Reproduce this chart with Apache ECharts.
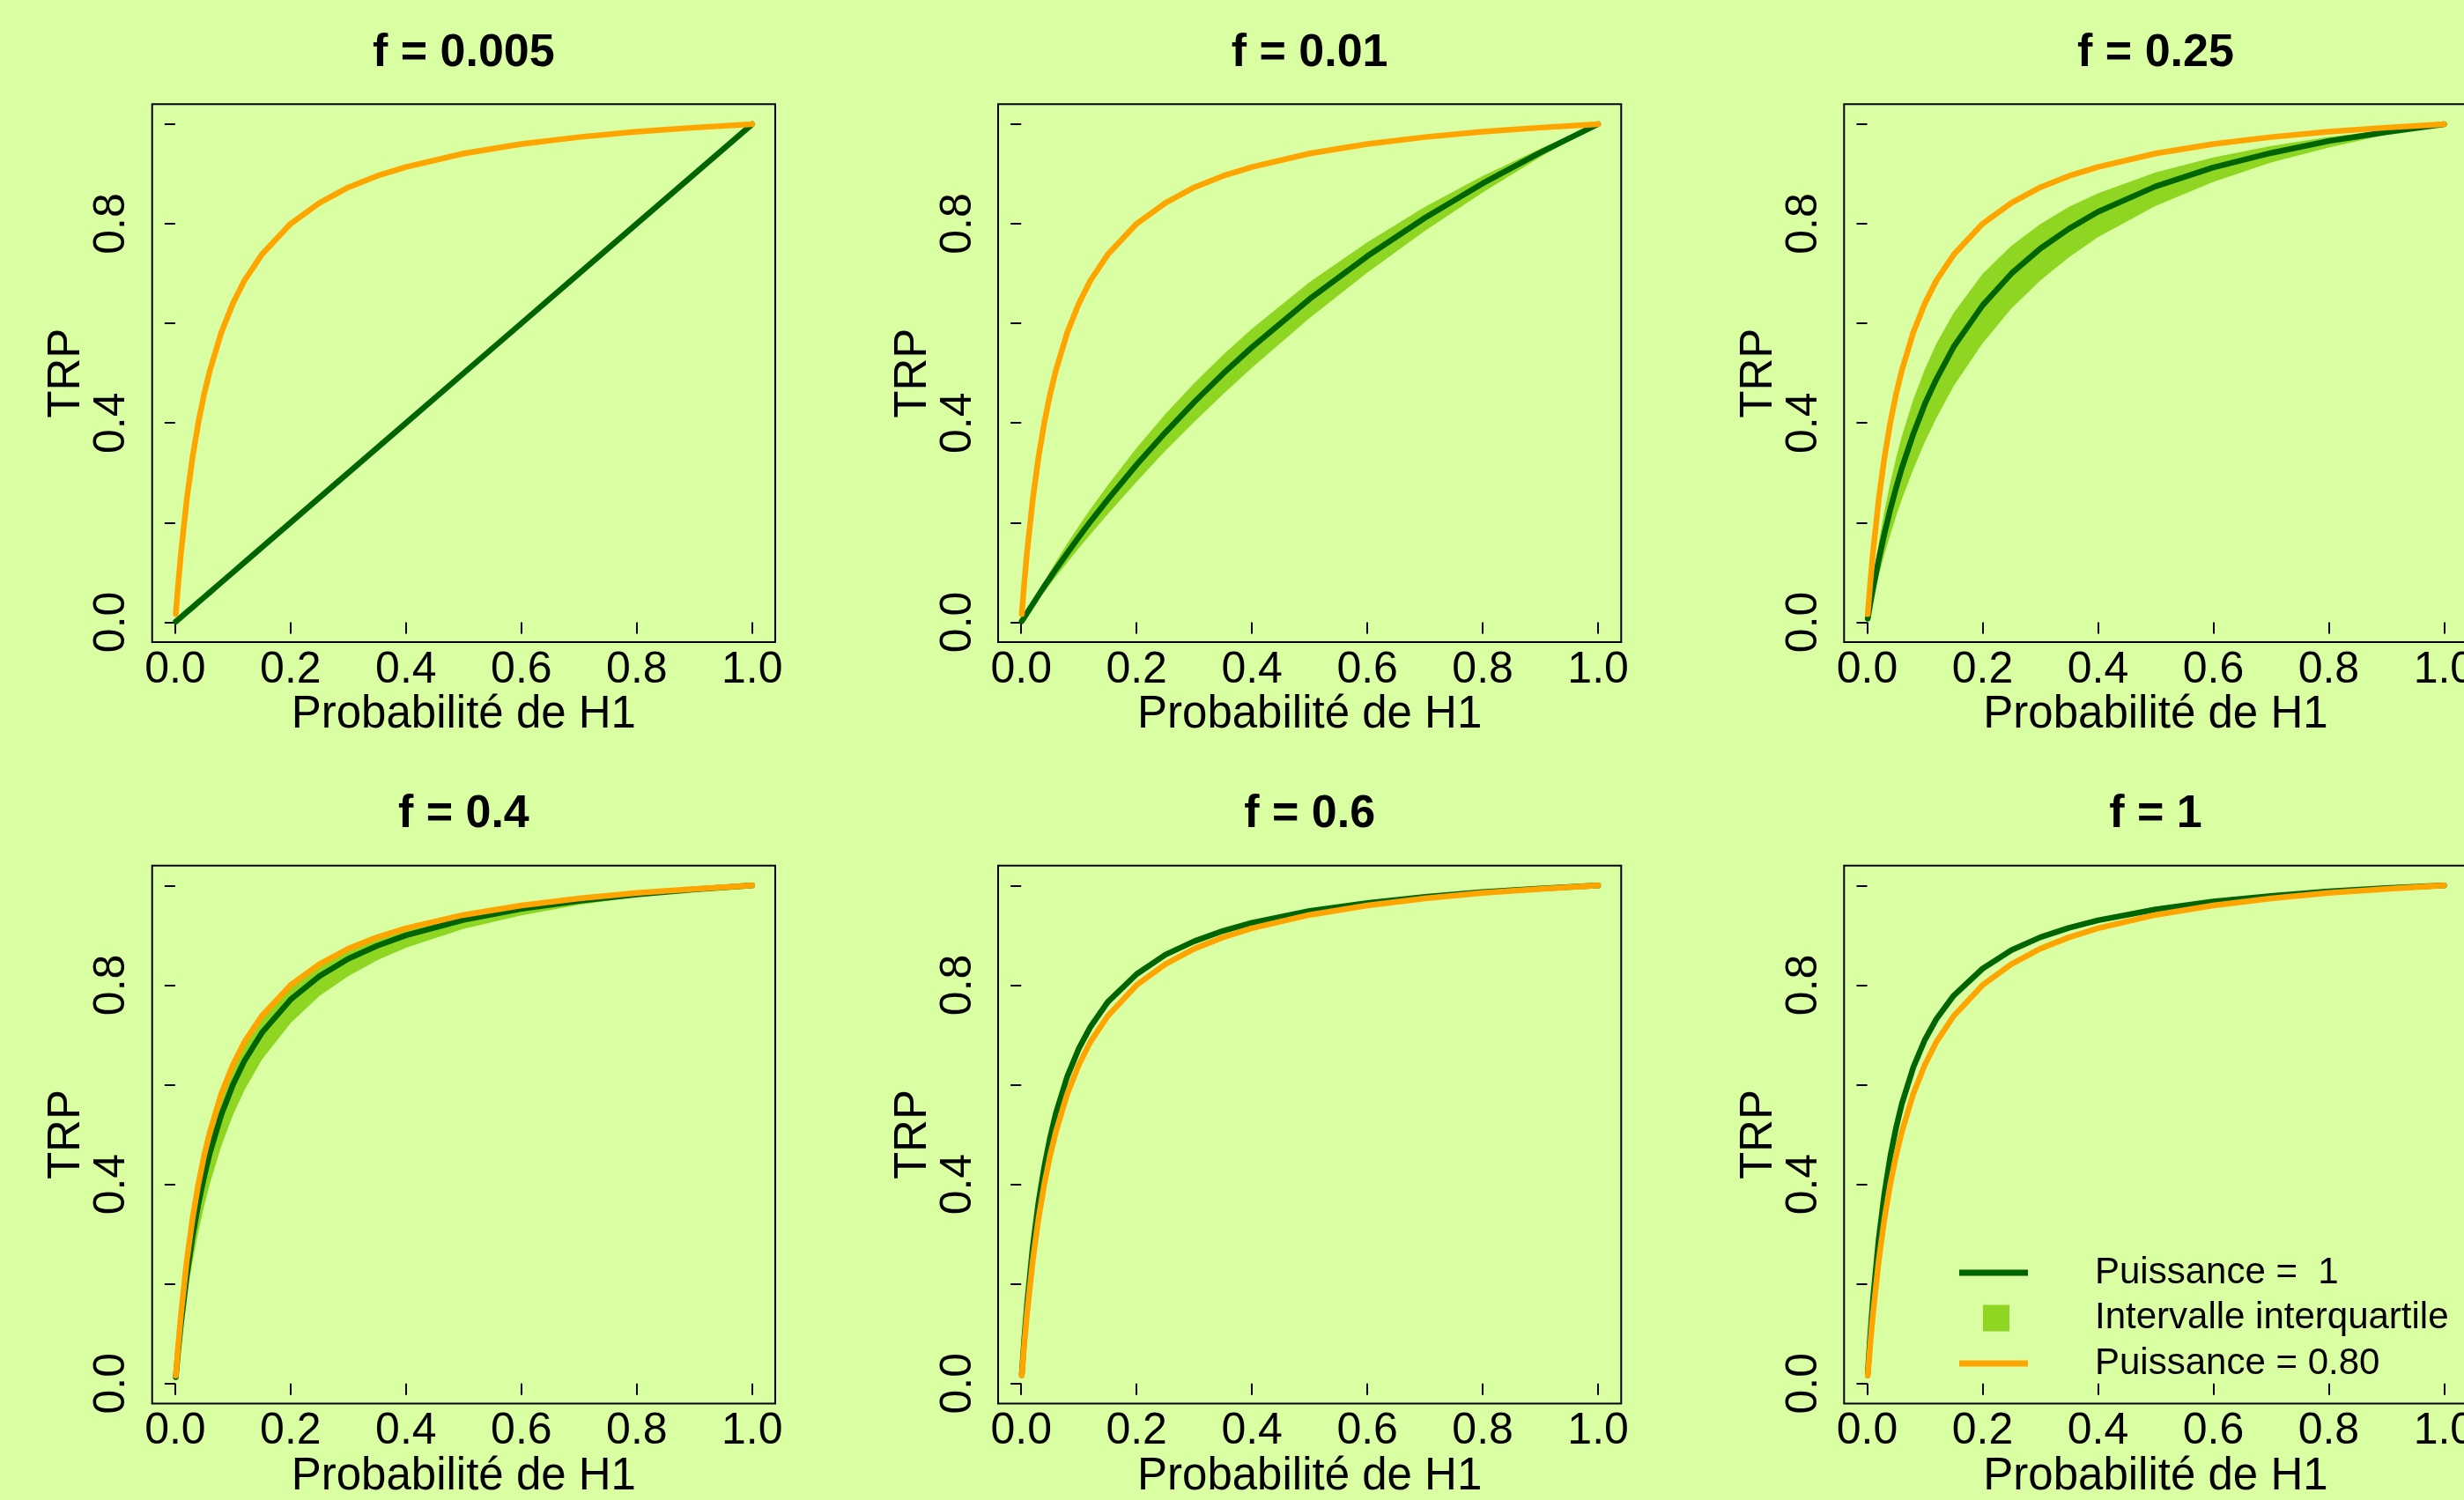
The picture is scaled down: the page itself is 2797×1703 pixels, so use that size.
<!DOCTYPE html>
<html>
<head>
<meta charset="utf-8">
<script src="https://cdn.jsdelivr.net/npm/echarts@6/dist/echarts.min.js"></script>
<style>
html,body{margin:0;padding:0;background:#DAFEA2;overflow:hidden;}
#c{width:2797px;height:1703px;}
</style>
</head>
<body>
<div id="c"></div>
<script>
// ---------- DATA ----------
const panelTitles = ['f = 0.005', 'f = 0.01', 'f = 0.25', 'f = 0.4', 'f = 0.6', 'f = 1'];
const xTickValues = [0, 0.2, 0.4, 0.6, 0.8, 1.0];
const yTickValues = [0, 0.2, 0.4, 0.6, 0.8, 1.0];
const yLabelValues = [0, 0.4, 0.8];
const xAxisTitle = 'Probabilité de H1';
const yAxisTitle = 'TRP';
const legendNames = ['Puissance =  1', 'Intervalle interquartile', 'Puissance = 0.80'];

const probH1 = [0.001,0.005,0.01,0.02,0.03,0.04,0.05,0.06,0.08,0.10,0.12,0.15,0.20,0.25,0.30,0.35,0.40,0.50,0.60,0.70,0.80,0.90,1.00];

// orange curve (Puissance = 0.80), same in every panel
const trpPower80 = [0.016,0.074,0.139,0.246,0.331,0.400,0.457,0.505,0.582,0.640,0.686,0.738,0.800,0.842,0.873,0.896,0.914,0.941,0.960,0.974,0.985,0.993,1.000];

// dark green curves (median) per panel
const median1 = [0.001,0.005,0.010,0.020,0.030,0.040,0.050,0.060,0.080,0.100,0.120,0.150,0.200,0.250,0.300,0.350,0.400,0.500,0.600,0.700,0.800,0.900,1.000];
const median2 = [0.002,0.009,0.018,0.036,0.054,0.072,0.089,0.106,0.139,0.171,0.202,0.246,0.316,0.381,0.442,0.499,0.552,0.649,0.735,0.812,0.881,0.943,1.000];
const median3 = [0.007,0.034,0.066,0.125,0.178,0.226,0.269,0.309,0.378,0.438,0.488,0.553,0.636,0.700,0.750,0.790,0.824,0.875,0.913,0.942,0.966,0.984,1.000];
const median4 = [0.013,0.064,0.120,0.216,0.295,0.360,0.415,0.463,0.540,0.600,0.648,0.704,0.771,0.818,0.853,0.879,0.900,0.931,0.953,0.969,0.982,0.992,1.000];
const median5 = [0.018,0.085,0.157,0.274,0.364,0.435,0.493,0.542,0.617,0.673,0.716,0.766,0.822,0.861,0.888,0.909,0.925,0.949,0.965,0.977,0.987,0.994,1.000];
const median6 = [0.020,0.091,0.168,0.290,0.382,0.455,0.513,0.561,0.635,0.690,0.732,0.779,0.833,0.870,0.896,0.915,0.930,0.952,0.968,0.979,0.988,0.995,1.000];

// interquartile bands (upper / lower) per panel
const upper2 = [0.002,0.011,0.021,0.042,0.062,0.082,0.102,0.121,0.158,0.193,0.227,0.275,0.350,0.418,0.480,0.537,0.589,0.683,0.763,0.834,0.896,0.951,1.000];
const lower2 = [0.002,0.008,0.016,0.031,0.046,0.061,0.076,0.091,0.120,0.149,0.176,0.217,0.282,0.344,0.402,0.458,0.511,0.611,0.702,0.786,0.863,0.934,1.000];
const upper3 = [0.009,0.045,0.086,0.160,0.223,0.279,0.329,0.373,0.447,0.508,0.559,0.621,0.699,0.756,0.799,0.834,0.861,0.903,0.933,0.956,0.974,0.988,1.000];
const lower3 = [0.005,0.025,0.049,0.094,0.136,0.175,0.212,0.246,0.307,0.362,0.410,0.474,0.560,0.630,0.686,0.733,0.773,0.836,0.884,0.923,0.953,0.979,1.000];
const upper4 = [0.016,0.077,0.143,0.252,0.338,0.407,0.465,0.513,0.589,0.647,0.692,0.744,0.805,0.846,0.876,0.899,0.917,0.943,0.961,0.975,0.985,0.993,1.000];
const lower4 = [0.010,0.050,0.096,0.177,0.245,0.304,0.356,0.401,0.477,0.539,0.589,0.650,0.724,0.778,0.818,0.850,0.875,0.913,0.940,0.961,0.977,0.990,1.000];
const upper5 = [0.019,0.088,0.163,0.283,0.374,0.446,0.504,0.552,0.627,0.682,0.725,0.773,0.828,0.866,0.892,0.912,0.928,0.951,0.967,0.978,0.987,0.994,1.000];
const lower5 = [0.017,0.082,0.152,0.265,0.354,0.425,0.482,0.531,0.606,0.663,0.707,0.758,0.816,0.855,0.884,0.905,0.922,0.947,0.964,0.976,0.986,0.994,1.000];

const medians = [median1, median2, median3, median4, median5, median6];
const uppers = [null, upper2, upper3, upper4, upper5, null];
const lowers = [null, lower2, lower3, lower4, lower5, null];

// ---------- STYLE / LAYOUT ----------
const FONT = '"Liberation Sans", Arial, sans-serif';
const GREEN = '#006400', BAND = '#8ED622', ORANGE = '#FFA500';
const colLeft = [172.7, 1133, 2093.3];
const rowTop = [118.3, 982.7];
const gridW = 707.3, gridH = 610.7;
const LW = 6.5;

const grids = [], xAxes = [], yAxes = [], titles = [], series = [];
const pairs = a => probH1.map((x, i) => [x, a[i]]);

for (let p = 0; p < 6; p++) {
  const r = Math.floor(p / 3), c = p % 3;
  grids.push({
    left: colLeft[c], top: rowTop[r], width: gridW, height: gridH,
    show: true, borderColor: '#000', borderWidth: 2, backgroundColor: 'transparent',
    containLabel: false, outerBoundsMode: 'none'
  });
  titles.push({
    text: panelTitles[p], left: colLeft[c] + gridW / 2, top: rowTop[r] - 84,
    textAlign: 'center', padding: 0,
    textStyle: { fontSize: 52, fontWeight: 'bold', color: '#000', fontFamily: FONT }
  });
  xAxes.push({
    type: 'value', gridIndex: p, min: -0.04, max: 1.04,
    splitLine: { show: false },
    axisLine: { show: false },
    axisTick: { show: true, customValues: xTickValues, length: 13, inside: false,
      lineStyle: { color: '#000', width: 2 } },
    axisLabel: { show: true, customValues: xTickValues, margin: 7, fontSize: 50,
      color: '#000', fontFamily: FONT, formatter: v => v.toFixed(1),
      showMinLabel: true, showMaxLabel: true, hideOverlap: false },
    name: xAxisTitle, nameLocation: 'middle', nameGap: 54,
    nameTextStyle: { fontSize: 51, color: '#000', fontFamily: FONT }
  });
  yAxes.push({
    type: 'value', gridIndex: p, min: -0.04, max: 1.04,
    splitLine: { show: false },
    axisLine: { show: false },
    axisTick: { show: true, customValues: yTickValues, length: 12, inside: false,
      lineStyle: { color: '#000', width: 2 } },
    axisLabel: { show: true, customValues: yLabelValues, margin: 20, rotate: 90, fontSize: 50,
      color: '#000', fontFamily: FONT, formatter: v => v.toFixed(1),
      showMinLabel: true, showMaxLabel: true, hideOverlap: false },
    name: yAxisTitle, nameLocation: 'middle', nameGap: 68,
    nameTextStyle: { fontSize: 51, color: '#000', fontFamily: FONT }
  });

  if (uppers[p]) {
    const up = uppers[p], lo = lowers[p];
    series.push({
      type: 'custom', name: legendNames[1], xAxisIndex: p, yAxisIndex: p,
      itemStyle: { color: BAND }, data: [0], z: 1, silent: true,
      renderItem: (params, api) => {
        const pts = [];
        for (let i = 0; i < probH1.length; i++) pts.push(api.coord([probH1[i], up[i]]));
        for (let i = probH1.length - 1; i >= 0; i--) pts.push(api.coord([probH1[i], lo[i]]));
        return { type: 'polygon', shape: { points: pts }, style: { fill: BAND } };
      }
    });
  }
  series.push({
    type: 'line', name: legendNames[0], xAxisIndex: p, yAxisIndex: p,
    data: pairs(medians[p]), symbol: 'none', smooth: false,
    color: GREEN, itemStyle: { color: GREEN },
    lineStyle: { color: GREEN, width: LW, cap: 'round', join: 'round' }, z: 2
  });
  series.push({
    type: 'line', name: legendNames[2], xAxisIndex: p, yAxisIndex: p,
    data: pairs(trpPower80), symbol: 'none', smooth: false,
    color: ORANGE, itemStyle: { color: ORANGE },
    lineStyle: { color: ORANGE, width: LW, cap: 'round', join: 'round' }, z: 3
  });
}

const lineIcon = 'path://M0,0M149,30M0,11.5L78,11.5L78,18.5L0,18.5Z';
const rectIcon = 'path://M0,0M149,30M27,0L57,0L57,30L27,30Z';

const option = {
  animation: false,
  backgroundColor: '#DAFEA2',
  title: titles,
  grid: grids,
  xAxis: xAxes,
  yAxis: yAxes,
  legend: {
    orient: 'vertical', left: 2224, top: 1422, padding: 0,
    itemWidth: 149, itemHeight: 30, itemGap: 5.5, selectedMode: false,
    itemStyle: { borderWidth: 0 },
    textStyle: { fontSize: 42, lineHeight: 46, color: '#000', fontFamily: FONT },
    data: [
      { name: legendNames[0], icon: lineIcon },
      { name: legendNames[1], icon: rectIcon },
      { name: legendNames[2], icon: lineIcon }
    ]
  },
  series: series
};

const chart = echarts.init(document.getElementById('c'), null, { renderer: 'canvas' });
chart.setOption(option);
</script>
</body>
</html>
